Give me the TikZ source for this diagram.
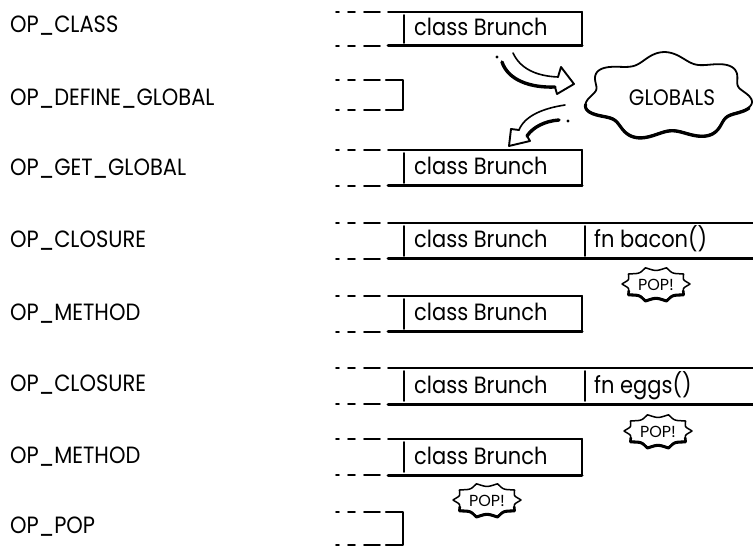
\documentclass[tikz,border=0pt]{standalone}
\usepackage{fontspec}
\usepackage{graphicx}
\setmainfont{Poppins}
\newcommand\mylead[1]{\draw[leadl] (336,#1) -- (339,#1) (348,#1) -- (355,#1) (364,#1) -- (380,#1);}
\newcommand\tallt[1]{\scalebox{1}[1.12]{#1}}
\begin{document}
\begin{tikzpicture}[x=1pt,y=-1pt,
  lbl/.style={anchor=base west, inner sep=0pt, font=\fontsize{21}{21}\selectfont},
  txt/.style={anchor=base west, inner sep=0pt, font=\fontsize{21}{21}\selectfont},
  popt/.style={inner sep=0pt, font=\fontsize{16}{16}\selectfont},
  leadl/.style={line width=1.8pt, line cap=round},
  topl/.style={line width=1.8pt, line cap=round, line join=round},
  botl/.style={line width=3pt, line cap=round},
  sidel/.style={line width=2.2pt, line cap=round, line join=round},
  sepl/.style={line width=1.6pt, line cap=round},
  band/.style={line width=1.6pt, line cap=round},
  bandthick/.style={line width=3.4pt, line cap=round},
  head/.style={line width=1.9pt, line cap=round, line join=round}]
\useasboundingbox (0,0) rectangle (753,548);

% labels
\node[lbl] (l0) at (10,33) {\tallt{OP\_CLASS}};
\node[lbl] (l1) at (10,106) {\tallt{OP\_DEFINE\_GLOBAL}};
\node[lbl] (l2) at (10,176) {\tallt{OP\_GET\_GLOBAL}};
\node[lbl] (l3) at (10,248) {\tallt{OP\_CLOSURE}};
\node[lbl] (l4) at (10,320) {\tallt{OP\_METHOD}};
\node[lbl] (l5) at (10,391) {\tallt{OP\_CLOSURE}};
\node[lbl] (l6) at (10,463) {\tallt{OP\_METHOD}};
\node[lbl] (l7) at (10,533) {\tallt{OP\_POP}};

% row 0
\mylead{12}\mylead{46}
\draw[topl] (388,12) -- (582,12);
\draw[sidel] (582,12) -- (582,46);
\draw[botl] (388,46) -- (582,46);
\draw[sepl] (404,15) -- (404,43);
\node[txt] (c0) at (414,36) {\tallt{class Brunch}};

% row 1
\mylead{80}\mylead{110}
\draw[sidel] (386,80) -- (403,80) -- (403,110) -- (386,110);

% row 2
\mylead{150}\mylead{186}
\draw[topl] (388,150) -- (582,150);
\draw[sidel] (582,150) -- (582,186);
\draw[botl] (388,186) -- (582,186);
\draw[sepl] (404,153) -- (404,183);
\node[txt] (c2) at (414,175) {\tallt{class Brunch}};

% row 3
\mylead{223}\mylead{259}
\draw[topl] (388,223) -- (753,223);
\draw[botl] (388,259) -- (753,259);
\draw[sepl] (404,226) -- (404,256);
\draw[sepl] (585,226) -- (585,256);
\node[txt] (c3) at (414,248) {\tallt{class Brunch}};
\node[txt] (f3) at (594,248) {\tallt{fn bacon()}};

% row 4
\mylead{296}\mylead{332}
\draw[topl] (388,296) -- (582,296);
\draw[sidel] (582,296) -- (582,332);
\draw[botl] (388,332) -- (582,332);
\draw[sepl] (404,299) -- (404,329);
\node[txt] (c4) at (414,321) {\tallt{class Brunch}};

% row 5
\mylead{368}\mylead{404}
\draw[topl] (388,368) -- (753,368);
\draw[botl] (388,404) -- (753,404);
\draw[sepl] (404,371) -- (404,401);
\draw[sepl] (585,371) -- (585,401);
\node[txt] (c5) at (414,393) {\tallt{class Brunch}};
\node[txt] (f5) at (594,393) {\tallt{fn eggs()}};

% row 6
\mylead{439}\mylead{475}
\draw[topl] (388,439) -- (582,439);
\draw[sidel] (582,439) -- (582,475);
\draw[botl] (388,475) -- (582,475);
\draw[sepl] (404,442) -- (404,472);
\node[txt] (c6) at (414,464) {\tallt{class Brunch}};

% row 7
\mylead{512}\mylead{545}
\draw[sidel] (386,512) -- (403,512) -- (403,545) -- (386,545);

% cloud
\draw[line width=1.8pt, fill=white] plot[domain=0:360, samples=241, smooth]
  ({668+(79+6*sin(7*\x+20))*cos(\x)}, {96+(39+5*sin(7*\x+20))*sin(\x)}) -- cycle;
\draw[line width=3pt, line cap=round] plot[domain=15:170, samples=120, smooth]
  ({668+(79+6*sin(7*\x+20))*cos(\x)}, {97+(39+5*sin(7*\x+20))*sin(\x)});
\node[inner sep=0pt, font=\fontsize{20}{20}\selectfont] (globals) at (672,98) {\tallt{GLOBALS}};

% arrow 1: class -> globals
\coordinate (a1s) at (497,57);
\fill (a1s) circle (1.6);
\draw[band] (513,53) .. controls (520,68) and (535,76) .. (558,77);
\draw[bandthick] (502,62) .. controls (508,80) and (530,88) .. (555,87);
\draw[head] (558,77) -- (561,67) -- (574,84) -- (557,94) -- (555,87);

% arrow 2: globals -> get global
\coordinate (a2s) at (568,121);
\fill (a2s) circle (1.6);
\draw[band] (565,105) .. controls (545,108) and (525,115) .. (519,130);
\draw[bandthick] (559,120) .. controls (545,121) and (533,127) .. (527,136);
\draw[head] (519,130) -- (511,129) -- (509,146) -- (530,141) -- (527,136);

% POP badges
\foreach \cx/\cy/\nm in {656/284/p3, 658/431/p5, 487/500/p6}{
  \draw[line width=1.5pt, fill=white, line join=round] plot[domain=0:360, samples=361]
    ({\cx+34*(1-0.14*abs(sin(5*\x)))*cos(\x)}, {\cy+17*(1-0.2*abs(sin(5*\x)))*sin(\x)}) -- cycle;
  \draw[line width=2.6pt, line cap=round, line join=round] plot[domain=25:155, samples=131]
    ({\cx+34*(1-0.14*abs(sin(5*\x)))*cos(\x)}, {\cy+1+17*(1-0.2*abs(sin(5*\x)))*sin(\x)});
  \node[popt] (\nm) at (\cx,\cy+1) {POP!};
}
\end{tikzpicture}
\end{document}
